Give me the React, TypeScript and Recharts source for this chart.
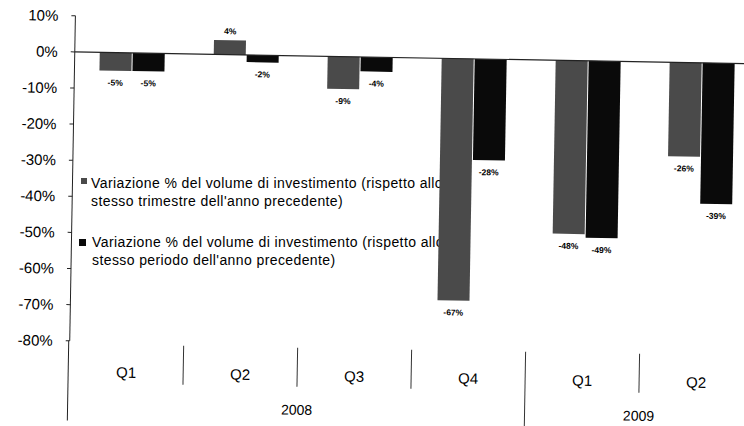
import React from 'react';
import { BarChart, Bar, XAxis, YAxis, ReferenceLine, LabelList } from 'recharts';

const quarters = ['Q1', 'Q2', 'Q3', 'Q4', 'Q1', 'Q2'];
const years = ['2008', '2008', '2008', '2008', '2009', '2009'];
const quarterlyChange = [-5, 4, -9, -67, -48, -26];
const cumulativeChange = [-5, -2, -4, -28, -49, -39];
const yTicks = [10, 0, -10, -20, -30, -40, -50, -60, -70, -80];
const legendQuarterly = ['Variazione % del volume di investimento (rispetto allo', "stesso trimestre dell'anno precedente)"];
const legendCumulative = ['Variazione % del volume di investimento (rispetto allo', "stesso periodo dell'anno precedente)"];

const FONT = 'Liberation Sans, Arial, sans-serif';
const GRAY = '#4a4a4a';
const BLACK = '#0a0a0a';

const data = quarters.map((q, i) => ({
  key: `${years[i]}-${q}`,
  quarter: q,
  year: years[i],
  quarterly: quarterlyChange[i],
  cumulative: cumulativeChange[i],
}));

const BarValueLabel = (props: any) => {
  const { x, y, width, height, value } = props;
  const v = Number(value);
  const top = Math.min(y, y + height);
  const bottom = Math.max(y, y + height);
  const ty = v < 0 ? bottom + 15 : top - 6;
  return (
    <text x={x + width / 2} y={ty} textAnchor="middle" fontSize={8.5} fontWeight="bold" fill="#000" fontFamily={FONT}>
      {`${v}%`}
    </text>
  );
};

const QuarterTick = (props: any) => {
  const { x, y, payload } = props;
  const i = payload?.index ?? props.index ?? 0;
  const half = payload?.offset || 57;
  const left = x - half;
  const groupStart = i === 0 || years[i] !== years[i - 1];
  let yearEl = null;
  if (groupStart) {
    let count = 0;
    for (let j = i; j < years.length && years[j] === years[i]; j++) count++;
    yearEl = (
      <text x={left + count * half} y={y + 70} textAnchor="middle" fontSize={14} fill="#000" fontFamily={FONT}>
        {years[i]}
      </text>
    );
  }
  return (
    <g>
      {i === 0 ? (
        <line x1={left - 1} x2={left - 1} y1={y} y2={426} stroke="#222" strokeWidth={1} />
      ) : (
        <line x1={left} x2={left} y1={y + 3} y2={groupStart ? 426 : y + 42} stroke="#333" strokeWidth={1} />
      )}
      <text x={x} y={y + 36} textAnchor="middle" fontSize={15} fill="#000" fontFamily={FONT}>
        {quarters[i]}
      </text>
      {yearEl}
    </g>
  );
};

export default function App() {
  return (
    <div style={{ position: 'fixed', left: 0, top: 0, width: 744, height: 426, overflow: 'hidden', background: '#fff' }}>
      <svg style={{ position: 'absolute', left: 0, top: 0 }} width={744} height={426}>
        <rect x={81} y={178} width={6} height={6} fill={GRAY} />
        <text x={91} y={188} fontSize={14} letterSpacing={0.4} fill="#000" fontFamily={FONT}>{legendQuarterly[0]}</text>
        <text x={91} y={206} fontSize={14} letterSpacing={0.4} fill="#000" fontFamily={FONT}>{legendQuarterly[1]}</text>
        <rect x={79} y={239} width={7} height={7} fill={BLACK} />
        <text x={92} y={247} fontSize={14} letterSpacing={0.4} fill="#000" fontFamily={FONT}>{legendCumulative[0]}</text>
        <text x={92} y={265} fontSize={14} letterSpacing={0.4} fill="#000" fontFamily={FONT}>{legendCumulative[1]}</text>
      </svg>
      <div style={{ position: 'absolute', left: 0, top: 0, width: 770, height: 426, transform: 'rotate(1deg)', transformOrigin: '372px 213px' }}>
        <BarChart
          width={770}
          height={426}
          data={data}
          margin={{ top: 21, right: 14, bottom: 0, left: 0 }}
          barSize={32}
          barGap={1}
        >
          <XAxis
            dataKey="key"
            height={80}
            axisLine={false}
            tickLine={false}
            tickSize={0}
            tickMargin={0}
            interval={0}
            tick={(p: any) => <QuarterTick {...p} />}
          />
          <YAxis
            domain={[-80, 10]}
            ticks={yTicks}
            width={72}
            tickFormatter={(v: number) => `${v}%`}
            tick={{ fontSize: 15, fill: '#000', fontFamily: FONT }}
            axisLine={{ stroke: '#222' }}
            tickLine={{ stroke: '#222' }}
            tickSize={4}
            tickMargin={13}
            interval={0}
          />
          <ReferenceLine y={0} stroke="#222" strokeWidth={1.2} />
          <Bar dataKey="quarterly" fill={GRAY} isAnimationActive={false}>
            <LabelList dataKey="quarterly" content={(p: any) => <BarValueLabel {...p} />} />
          </Bar>
          <Bar dataKey="cumulative" fill={BLACK} isAnimationActive={false}>
            <LabelList dataKey="cumulative" content={(p: any) => <BarValueLabel {...p} />} />
          </Bar>
        </BarChart>
      </div>
    </div>
  );
}
